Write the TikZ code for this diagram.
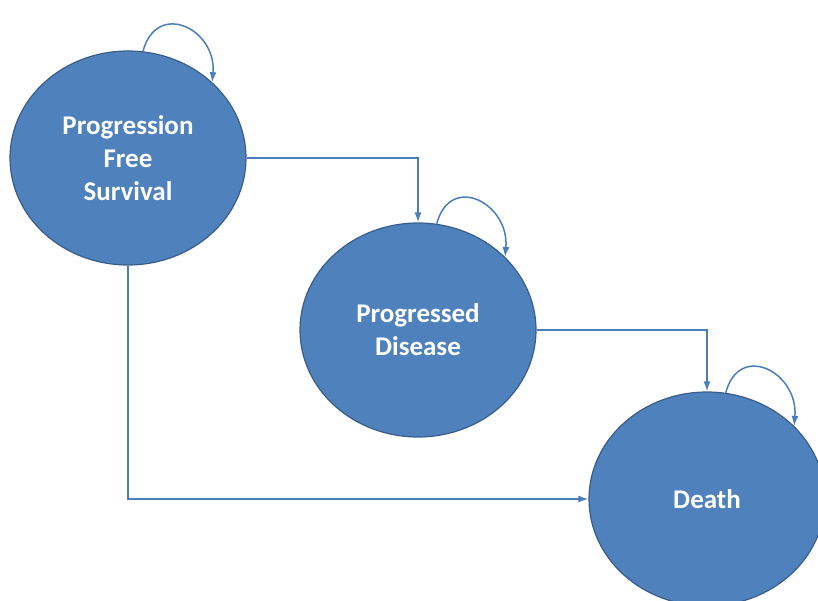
\documentclass[tikz,border=0pt]{standalone}
\usepackage{fontspec}
\setmainfont{Carlito}
\usetikzlibrary{shapes,arrows.meta}
\definecolor{statefill}{HTML}{4F81BD}
\definecolor{statedraw}{HTML}{385D8A}
\definecolor{linkblue}{HTML}{4A7EBB}
\tikzstyle{state} = [ellipse, draw=statedraw, line width=1.2pt, fill=statefill, text=white, text centered, align=center, minimum width=236pt, minimum height=214pt, inner sep=0, font=\bfseries\fontsize{27}{33}\selectfont]
\tikzstyle{line} = [draw=linkblue, line width=1.5pt, -{Latex[length=10pt,width=7pt]}]

\begin{document}
\begin{tikzpicture}[x=1pt,y=-1pt]
\useasboundingbox (0,0) rectangle (818,601);

\node [state] (pfs) at (128,158) {Progression\\Free\\Survival};
\node [state] (pd) at (418,330) {Progressed\\Disease};
\node [state] (death) at (707,499) {Death};

% transitions between states
\path [line] (pfs.east) -| (pd.north);
\path [line] (pd.east) -| (death.north);
\path [line] (pfs.south) |- (death.west);

% staying in the same state
\path [line] (pfs.82) to[out=75,in=85,looseness=1.8] (pfs.42);
\path [line] (pd.80) to[out=75,in=85,looseness=1.8] (pd.40);
\path [line] (death.80) to[out=75,in=85,looseness=1.8] (death.40);

\end{tikzpicture}
\end{document}
